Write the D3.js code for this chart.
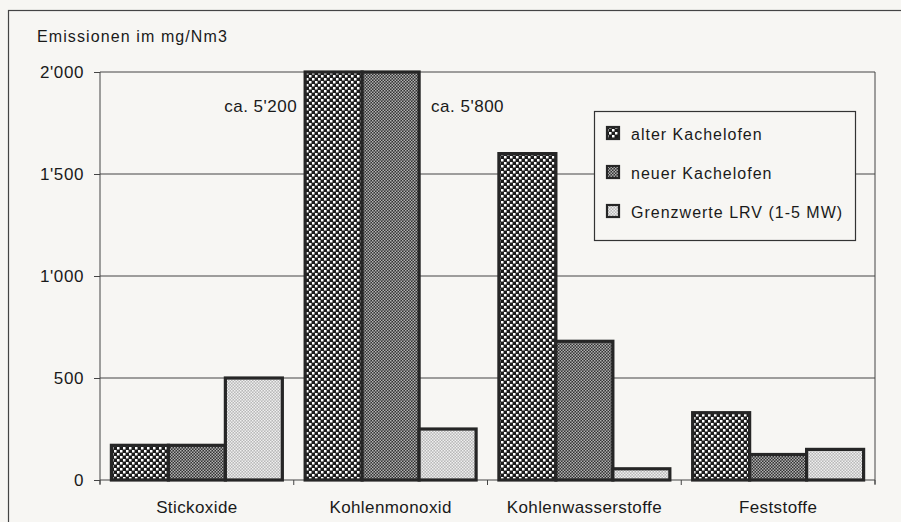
<!DOCTYPE html>
<html>
<head>
<meta charset="utf-8">
<script src="https://cdn.jsdelivr.net/npm/d3@7"></script>
<style>
body { margin: 0; background: #f7f6f3; }
svg { display: block; font-family: "Liberation Sans", Arial, sans-serif; }
</style>
</head>
<body>
<svg id="chart" width="901" height="522"></svg>
<script>
var categorie = ["Stickoxide", "Kohlenmonoxid", "Kohlenwasserstoffe", "Feststoffe"];
var serie = ["alter Kachelofen", "neuer Kachelofen", "Grenzwerte LRV (1-5 MW)"];
var alter = [170, 5200, 1600, 330];
var neuer = [170, 5800, 680, 125];
var grenzwerte = [500, 250, 55, 150];
var yTicks = [0, 500, 1000, 1500, 2000];
var yTickLabels = ["0", "500", "1'000", "1'500", "2'000"];
var note = [
	{cat: "Kohlenmonoxid", serie: "alter Kachelofen", text: "ca. 5'200", side: "left"},
	{cat: "Kohlenmonoxid", serie: "neuer Kachelofen", text: "ca. 5'800", side: "right"}
];

var dati = [];
categorie.forEach(function (c, i) {
	dati.push({cat: c, serie: serie[0], res: alter[i]});
	dati.push({cat: c, serie: serie[1], res: neuer[i]});
	dati.push({cat: c, serie: serie[2], res: grenzwerte[i]});
});

var margin = {top: 72, right: 26, bottom: 42, left: 100},
	width = 901 - margin.left - margin.right,
	height = 522 - margin.top - margin.bottom;

var ink = "#262626";
var svg = d3.select("#chart");

// patterns
var defs = svg.append("defs");
function checker(id, size, c1, c2, cell) {
	var p = defs.append("pattern")
		.attr("id", id)
		.attr("patternUnits", "userSpaceOnUse")
		.attr("width", size * 2)
		.attr("height", size * 2);
	p.append("rect").attr("width", size * 2).attr("height", size * 2).attr("fill", c1);
	p.append("rect").attr("x", 0).attr("y", 0).attr("width", cell).attr("height", cell).attr("fill", c2);
	p.append("rect").attr("x", size).attr("y", size).attr("width", cell).attr("height", cell).attr("fill", c2);
}
checker("pAlter", 3, "#1c1c1c", "#ffffff", 2.5);
checker("pNeuer", 1.5, "#333333", "#b0b0b0", 1.5);
checker("pGrenz", 1.5, "#b8b8b8", "#efefef", 1.5);

var colori = d3.scaleOrdinal()
	.domain(serie)
	.range(["url(#pAlter)", "url(#pNeuer)", "url(#pGrenz)"]);

// outer frame
svg.append("rect")
	.attr("x", 8.5).attr("y", 10.5)
	.attr("width", 900).attr("height", 520)
	.attr("fill", "none")
	.attr("stroke", "#444")
	.attr("stroke-width", 1.2);

// scales
var x = d3.scaleBand()
	.domain(categorie)
	.range([margin.left, margin.left + width]);

var xInner = d3.scaleBand()
	.domain(serie)
	.range([0, x.bandwidth()])
	.paddingOuter(0.2);

var y = d3.scaleLinear()
	.domain([0, 2000])
	.range([margin.top + height, margin.top])
	.clamp(true);

var g = svg.append("g");

// grid lines
g.selectAll("line.grid")
	.data(yTicks.slice(1))
	.enter()
	.append("line")
	.attr("class", "grid")
	.attr("x1", margin.left)
	.attr("x2", margin.left + width)
	.attr("y1", function (d) { return y(d); })
	.attr("y2", function (d) { return y(d); })
	.attr("stroke", "#444")
	.attr("stroke-width", 1);

// right border
g.append("line")
	.attr("x1", margin.left + width).attr("x2", margin.left + width)
	.attr("y1", margin.top).attr("y2", margin.top + height + 4)
	.attr("stroke", "#444");

// y axis
var yAxis = g.append("g")
	.attr("transform", "translate(" + margin.left + ",0)")
	.call(d3.axisLeft(y)
		.tickValues(yTicks)
		.tickFormat(function (d, i) { return yTickLabels[i]; })
		.tickSize(6)
		.tickPadding(10));
yAxis.select(".domain").attr("d", "M0," + margin.top + "V" + (margin.top + height + 4)).attr("stroke", "#444");
yAxis.selectAll(".tick line").attr("stroke", "#444");
yAxis.selectAll("text")
	.style("font-size", "17px")
	.style("letter-spacing", "0.6px")
	.attr("fill", "#1a1a1a");

// x axis
var confini = categorie.map(function (c) { return x(c); }).concat([margin.left + width]);
g.append("line")
	.attr("x1", margin.left).attr("x2", margin.left + width)
	.attr("y1", y(0)).attr("y2", y(0))
	.attr("stroke", "#444");
g.selectAll("line.xtick")
	.data(confini)
	.enter()
	.append("line")
	.attr("class", "xtick")
	.attr("x1", function (d) { return d; })
	.attr("x2", function (d) { return d; })
	.attr("y1", y(0))
	.attr("y2", y(0) + 5)
	.attr("stroke", "#444");
g.selectAll("text.cat")
	.data(categorie)
	.enter()
	.append("text")
	.attr("class", "cat")
	.attr("x", function (d) { return x(d) + x.bandwidth() / 2; })
	.attr("y", margin.top + height + 33)
	.attr("text-anchor", "middle")
	.style("font-size", "17px")
	.style("letter-spacing", "0.4px")
	.attr("fill", "#1a1a1a")
	.text(function (d) { return d; });

// bars
g.selectAll("rect.bar")
	.data(dati)
	.enter()
	.append("rect")
	.attr("class", "bar")
	.attr("x", function (d) { return x(d.cat) + xInner(d.serie); })
	.attr("y", function (d) { return y(d.res); })
	.attr("width", xInner.bandwidth())
	.attr("height", function (d) { return y(0) - y(d.res); })
	.attr("fill", function (d) { return colori(d.serie); })
	.attr("stroke", ink)
	.attr("stroke-width", 3.2);

// annotations for clipped bars
g.selectAll("text.note")
	.data(note)
	.enter()
	.append("text")
	.attr("class", "note")
	.attr("x", function (d) {
		var bx = x(d.cat) + xInner(d.serie);
		return d.side == "left" ? bx - 8 : bx + xInner.bandwidth() + 12;
	})
	.attr("y", margin.top + 40)
	.attr("text-anchor", function (d) { return d.side == "left" ? "end" : "start"; })
	.style("font-size", "17px")
	.style("letter-spacing", "0.5px")
	.attr("fill", "#1a1a1a")
	.text(function (d) { return d.text; });

// axis title
svg.append("text")
	.attr("x", 37)
	.attr("y", 42)
	.style("font-size", "16px")
	.style("letter-spacing", "1.1px")
	.attr("fill", "#1a1a1a")
	.text("Emissionen im mg/Nm3");

// legend
var legenda = svg.append("g").attr("transform", "translate(594,111)");
legenda.append("rect")
	.attr("x", 0.5).attr("y", 0.5)
	.attr("width", 261).attr("height", 129)
	.attr("fill", "#f7f6f3")
	.attr("stroke", "#333")
	.attr("stroke-width", 1.2);
var voci = legenda.selectAll("g.voce")
	.data(serie)
	.enter()
	.append("g")
	.attr("class", "voce")
	.attr("transform", function (d, i) { return "translate(0," + (i * 39) + ")"; });
voci.append("rect")
	.attr("x", 13).attr("y", 16)
	.attr("width", 12).attr("height", 12)
	.attr("fill", function (d) { return colori(d); })
	.attr("stroke", ink)
	.attr("stroke-width", 2.2);
voci.append("text")
	.attr("x", 37)
	.attr("y", 29)
	.style("font-size", "16px")
	.style("letter-spacing", "1px")
	.attr("fill", "#1a1a1a")
	.text(function (d) { return d; });
</script>
</body>
</html>
